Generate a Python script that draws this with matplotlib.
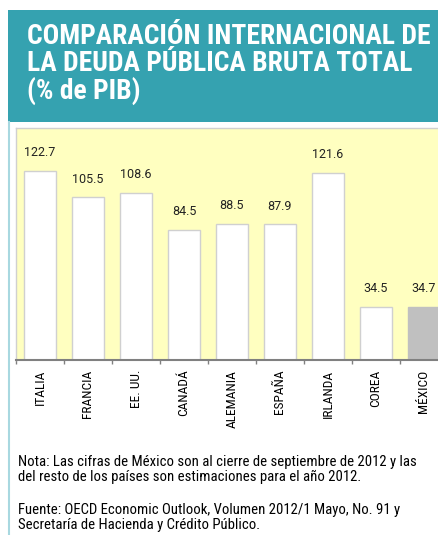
import matplotlib
matplotlib.use("Agg")
import matplotlib.pyplot as plt
from matplotlib.patches import Rectangle
from matplotlib.lines import Line2D

# Data
countries = ["ITALIA", "FRANCIA", "EE. UU.", "CANADÁ", "ALEMANIA",
             "ESPAÑA", "IRLANDA", "COREA", "MÉXICO"]
debt = [122.7, 105.5, 108.6, 84.5, 88.5, 87.9, 121.6, 34.5, 34.7]
highlight = "MÉXICO"

title = "COMPARACIÓN INTERNACIONAL DE\nLA DEUDA PÚBLICA BRUTA TOTAL\n(% de PIB)"
note = ("Nota: Las cifras de México son al cierre de septiembre de 2012 y las\n"
        "del resto de los países son estimaciones para el año 2012.")
source = ("Fuente: OECD Economic Outlook, Volumen 2012/1 Mayo, No. 91 y\n"
          "Secretaría de Hacienda y Crédito Público.")

W, H = 438, 535
TEAL = "#35a2b0"
YELLOW = "#ffffc0"
COND = ["Roboto Condensed", "DejaVu Sans"]

fig = plt.figure(figsize=(W / 100, H / 100), dpi=100)
fig.patch.set_facecolor("white")

# header band and left border line
fig.add_artist(Rectangle((8 / W, 1 - 122 / H), 1, 112 / H,
                         transform=fig.transFigure, color=TEAL, lw=0))
fig.add_artist(Line2D([8.5 / W, 8.5 / W], [0, 1 - 122 / H],
                      transform=fig.transFigure, color="#a8d8e0", lw=1.5))
fig.text(27 / W, 1 - 23 / H, title, color="white", fontsize=19.8,
         fontweight="bold", family=COND, va="top", ha="left",
         linespacing=1.0)

# chart area (runs past the right edge like the original)
ax = fig.add_axes([16 / W, 1 - 360 / H, 432 / W, 232 / H])
ax.set_facecolor(YELLOW)
x = range(len(countries))
colors = ["#c0c0c0" if c == highlight else "white" for c in countries]
edges = ["#c0c0c0" if c == highlight else "#d0d0d0" for c in countries]
ax.bar(x, debt, width=0.667, color=colors, edgecolor=edges, linewidth=1)
for i, v in enumerate(debt):
    ax.text(i, v + 11.7, f"{v:.1f}", ha="center", va="center",
            fontsize=9, family=["Roboto", "DejaVu Sans"], color="#222222")

ax.set_xlim(-0.5, len(countries) - 0.5)
ax.set_ylim(0, 150.5)
ax.set_yticks([])
ax.set_xticks([i - 0.5 for i in range(len(countries) + 1)])
ax.set_xticklabels([])
ax.set_xticks(list(x), minor=True)
ax.set_xticklabels(countries, minor=True, rotation=90, fontsize=9.6,
                   family=COND, va="top", ha="center")
ax.tick_params(axis="x", which="major", length=3, width=1, color="#808080")
ax.tick_params(axis="x", which="minor", length=0, pad=7)
for side in ("top", "left", "right"):
    ax.spines[side].set_color("#d0d0d0")
    ax.spines[side].set_linewidth(1)
ax.spines["bottom"].set_color("#808080")
ax.spines["bottom"].set_linewidth(1.5)

fig.text(18 / W, 1 - 455 / H, note, fontsize=10.6, family=COND,
         va="top", ha="left", linespacing=1.12)
fig.text(18 / W, 1 - 503 / H, source, fontsize=10.6, family=COND,
         va="top", ha="left", linespacing=1.12)

fig.savefig("out.png", dpi=100)
